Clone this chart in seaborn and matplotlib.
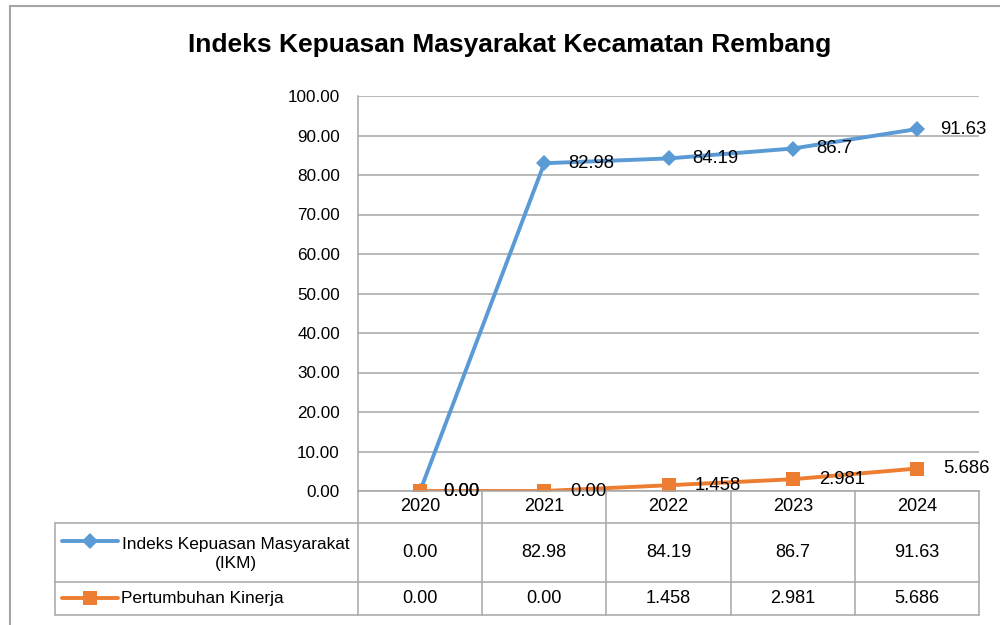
import numpy as np
import pandas as pd
import matplotlib
matplotlib.use('Agg')
import matplotlib.pyplot as plt
import seaborn as sns
from matplotlib import font_manager as fm
from matplotlib.transforms import blended_transform_factory
from matplotlib.patches import Rectangle

# ---------------- data ----------------
years = ['2020', '2021', '2022', '2023', '2024']
ikm = [0.00, 82.98, 84.19, 86.7, 91.63]
kinerja = [0.00, 0.00, 1.458, 2.981, 5.686]
ikm_labels = ['0.00', '82.98', '84.19', '86.7', '91.63']
kinerja_labels = ['0.00', '0.00', '1.458', '2.981', '5.686']
series_names = ['Indeks Kepuasan Masyarakat (IKM)', 'Pertumbuhan Kinerja']
legend_texts = ['Indeks Kepuasan Masyarakat\n(IKM)', 'Pertumbuhan Kinerja']
title = 'Indeks Kepuasan Masyarakat Kecamatan Rembang'
y_ticks = [0, 10, 20, 30, 40, 50, 60, 70, 80, 90, 100]
colors = ['#5B9BD5', '#ED7D31']

# ---------------- style ----------------
sns.set_theme(style='white')
names = {f.name for f in fm.fontManager.ttflist}
base = 'Liberation Sans' if 'Liberation Sans' in names else 'DejaVu Sans'
narrow_ok = 'Liberation Sans Narrow' in names
narrow = 'Liberation Sans Narrow' if narrow_ok else base
nscale = 1.0 if narrow_ok else 0.87
plt.rcParams['font.family'] = [base, 'DejaVu Sans']

GRID = '#A6A6A6'
D_MS, S_MS = 8.5, 9.5

fig = plt.figure(figsize=(10, 6.25), dpi=100)
fig.patch.set_facecolor('white')
ax = fig.add_axes([0.358, 0.2144, 0.621, 0.632])

df = pd.DataFrame({
    'x': list(range(len(years))) * 2,
    'value': ikm + kinerja,
    'series': [series_names[0]] * len(years) + [series_names[1]] * len(years),
})
sns.lineplot(data=df, x='x', y='value', hue='series', style='series',
             markers={series_names[0]: 'D', series_names[1]: 's'},
             dashes=False, palette=dict(zip(series_names, colors)),
             linewidth=2.8, markersize=7, markeredgewidth=0,
             legend=False, sort=False, ax=ax)
for ln, ms in zip(ax.get_lines(), [D_MS, S_MS]):
    ln.set_markersize(ms)

ax.set_xlim(-0.5, len(years) - 0.5)
ax.set_ylim(0, 100)
ax.set_yticks(y_ticks)
ax.set_yticklabels([f'{v:.2f}' for v in y_ticks], fontsize=12.3, color='black')
ax.set_xticks([])
ax.set_xlabel('')
ax.set_ylabel('')
ax.yaxis.grid(True, color=GRID, linewidth=1.1)
ax.set_axisbelow(True)
ax.tick_params(axis='y', length=0, pad=13)
for s in ['top', 'right']:
    ax.spines[s].set_visible(False)
for s in ['left', 'bottom']:
    ax.spines[s].set_color(GRID)
    ax.spines[s].set_linewidth(1.1)

# data labels
lab_fs = 15.3 * nscale
for i, (v, t) in enumerate(zip(ikm, ikm_labels)):
    ax.annotate(t, (i, v), xytext=(17, 0), textcoords='offset points',
                ha='left', va='center', fontsize=lab_fs, family=narrow,
                color='black', annotation_clip=False)
for i, (v, t) in enumerate(zip(kinerja, kinerja_labels)):
    ax.annotate(t, (i, v), xytext=(17 if i == 0 else 19, 0), textcoords='offset points',
                ha='left', va='center', fontsize=lab_fs, family=narrow,
                color='black', annotation_clip=False)

# ---------------- data table ----------------
tr = blended_transform_factory(ax.transData, ax.transAxes)
n = len(years)
x_left = -2.94
y_hdr = -0.081
y_r1 = -0.230
y_r2 = -0.314
kw = dict(color=GRID, linewidth=1.1, transform=tr, clip_on=False)
ax.plot([x_left, n - 0.5], [y_hdr, y_hdr], **kw)
ax.plot([x_left, n - 0.5], [y_r1, y_r1], **kw)
ax.plot([x_left, n - 0.5], [y_r2, y_r2], **kw)
ax.plot([x_left, x_left], [y_hdr, y_r2], **kw)
for b in np.arange(-0.5, n, 1.0):
    ax.plot([b, b], [0, y_r2], **kw)

tab_fs = 15 * nscale
for i, yr in enumerate(years):
    ax.text(i, (0 + y_hdr) / 2, yr, transform=tr, ha='center', va='center',
            fontsize=tab_fs, family=narrow, color='black')
    ax.text(i, (y_hdr + y_r1) / 2, ikm_labels[i], transform=tr, ha='center',
            va='center', fontsize=tab_fs, family=narrow, color='black')
    ax.text(i, (y_r1 + y_r2) / 2, kinerja_labels[i], transform=tr, ha='center',
            va='center', fontsize=tab_fs, family=narrow, color='black')

# legend keys inside the table
leg_fs = 15 * (1.0 if narrow_ok else 0.83)
key_x = [-2.883, -2.432]
key_y = [-0.127, (y_r1 + y_r2) / 2]
for k, (c, m, ms) in enumerate(zip(colors, ['D', 's'], [D_MS, S_MS])):
    ax.plot(key_x, [key_y[k]] * 2, color=c, linewidth=2.8, transform=tr, clip_on=False)
    ax.plot([np.mean(key_x)], [key_y[k]], marker=m, markersize=ms, color=c,
            markeredgewidth=0, transform=tr, clip_on=False)
ax.text(-1.482, (y_hdr + y_r1) / 2 - 0.005, legend_texts[0], transform=tr, ha='center',
        va='center', fontsize=leg_fs, family=narrow, color='black',
        multialignment='center', linespacing=1.35)
ax.text(-2.408, (y_r1 + y_r2) / 2, legend_texts[1], transform=tr, ha='left',
        va='center', fontsize=leg_fs, family=narrow, color='black')

# title
fig.text(0.51, 0.928, title, ha='center', va='center',
         fontsize=21.8 * nscale, fontweight='bold', family=narrow, color='black')

# outer chart frame
fig.patches.append(Rectangle((0.010, -0.5), 2, 0.9904 + 0.5, fill=False,
                             edgecolor='#A6A6A6', linewidth=1.5,
                             transform=fig.transFigure, figure=fig))

fig.savefig('out.png', dpi=100, facecolor='white')
